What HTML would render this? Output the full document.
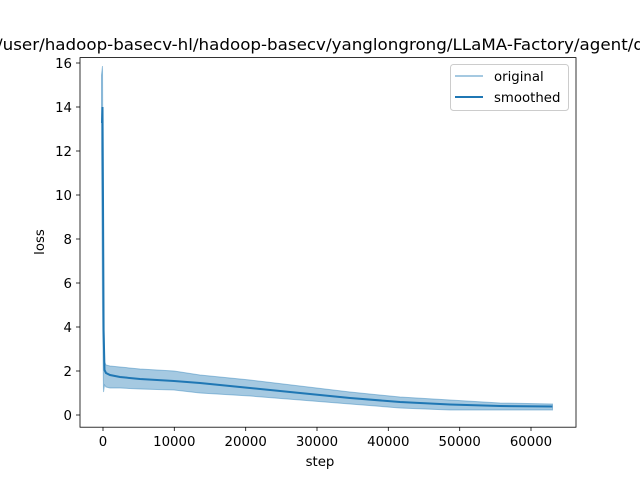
<!DOCTYPE html>
<html><head><style>body{margin:0;background:#fff}svg{display:block}</style></head><body>
<svg width="640" height="480" xmlns="http://www.w3.org/2000/svg" font-family="DejaVu Sans, Liberation Sans, sans-serif">
<rect width="640" height="480" fill="#fff"/>
<text x="-3" y="50" font-size="16" textLength="647" lengthAdjust="spacingAndGlyphs">/user/hadoop-basecv-hl/hadoop-basecv/yanglongrong/LLaMA-Factory/agent/q</text>
<!-- original band -->
<polygon fill="#1f77b4" fill-opacity="0.4" stroke="#1f77b4" stroke-opacity="0.4" stroke-width="1" points="
101.5,75 102.5,66 103.5,300 104.5,362 106,365 110,366 120,367 140,369 174,371 200,375 250,380 300,386 350,392 400,397 450,400 500,403 552.5,404
552.5,410 500,410 450,410 400,408 350,404 300,400 250,396 200,393 174,390 140,389 120,388 110,388 106,387 104.5,385 103.5,392 102.5,310 101.5,150"/>
<!-- smoothed -->
<polyline fill="none" stroke="#1f77b4" stroke-width="2" points="102,123 102.5,107 103,200 103.6,330 104.5,370 106,373 110,375 120,377 140,379 174,381 200,383 250,388 300,393 350,398 400,402 450,404.5 500,406 552.5,406.5"/>
<!-- axes -->
<rect x="80" y="57.6" width="496" height="369.6" fill="none" stroke="#000" stroke-width="0.8"/>
<g stroke="#000" stroke-width="0.8">
<line x1="103" y1="427" x2="103" y2="431"/><line x1="174.3" y1="427" x2="174.3" y2="431"/><line x1="245.7" y1="427" x2="245.7" y2="431"/><line x1="317" y1="427" x2="317" y2="431"/><line x1="388.3" y1="427" x2="388.3" y2="431"/><line x1="459.7" y1="427" x2="459.7" y2="431"/><line x1="531" y1="427" x2="531" y2="431"/>
<line x1="76" y1="415" x2="80" y2="415"/><line x1="76" y1="371" x2="80" y2="371"/><line x1="76" y1="327" x2="80" y2="327"/><line x1="76" y1="283" x2="80" y2="283"/><line x1="76" y1="239" x2="80" y2="239"/><line x1="76" y1="195" x2="80" y2="195"/><line x1="76" y1="151" x2="80" y2="151"/><line x1="76" y1="107" x2="80" y2="107"/><line x1="76" y1="63" x2="80" y2="63"/>
</g>
<g font-size="13.3" text-anchor="middle">
<text x="103" y="446">0</text><text x="174.3" y="446">10000</text><text x="245.7" y="446">20000</text><text x="317" y="446">30000</text><text x="388.3" y="446">40000</text><text x="459.7" y="446">50000</text><text x="531" y="446">60000</text>
<text x="320" y="466">step</text>
</g>
<g font-size="13.3" text-anchor="end">
<text x="72" y="420">0</text><text x="72" y="376">2</text><text x="72" y="332">4</text><text x="72" y="288">6</text><text x="72" y="244">8</text><text x="72" y="200">10</text><text x="72" y="156">12</text><text x="72" y="112">14</text><text x="72" y="68">16</text>
</g>
<text transform="translate(44,242) rotate(-90)" font-size="13.3" text-anchor="middle">loss</text>
<!-- legend -->
<rect x="450.5" y="64.5" width="118" height="46" rx="3" fill="#fff" stroke="#ccc" stroke-width="1"/>
<line x1="455" y1="76" x2="483" y2="76" stroke="#1f77b4" stroke-opacity="0.4" stroke-width="2"/>
<line x1="455" y1="97" x2="483" y2="97" stroke="#1f77b4" stroke-width="2"/>
<text x="494" y="81" font-size="13.3">original</text>
<text x="494" y="102" font-size="13.3">smoothed</text>
</svg>
</body></html>
